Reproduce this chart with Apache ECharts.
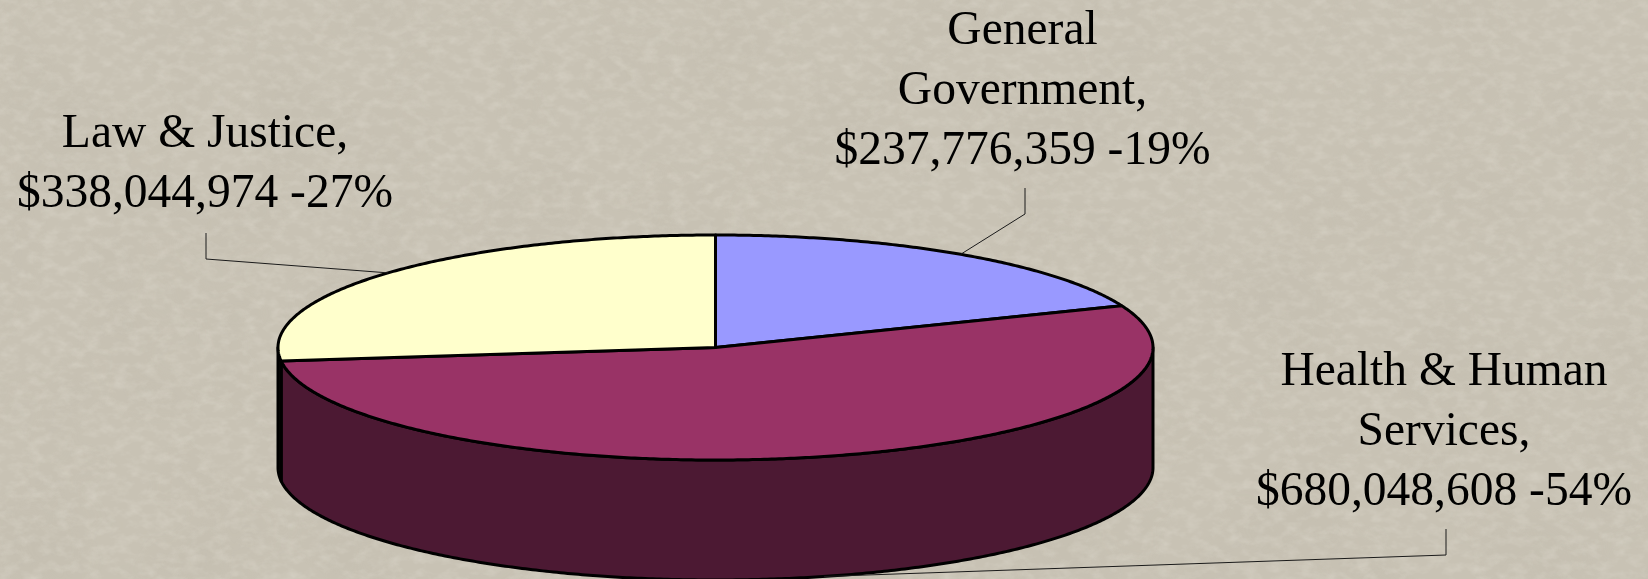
<!DOCTYPE html>
<html>
<head>
<meta charset="utf-8">
<style>
html,body{margin:0;padding:0;width:1648px;height:579px;overflow:hidden;background:#c8c2b4;}
#tex{position:absolute;left:0;top:0;}
#main{position:absolute;left:0;top:0;width:1648px;height:579px;}
</style>
<script src="https://cdn.jsdelivr.net/npm/echarts@6/dist/echarts.min.js"></script>
</head>
<body>
<svg id="tex" width="1648" height="579" xmlns="http://www.w3.org/2000/svg">
  <filter id="paper" x="0" y="0" width="100%" height="100%">
    <feTurbulence type="fractalNoise" baseFrequency="0.07 0.11" numOctaves="3" seed="7"/>
    <feColorMatrix type="matrix" values="0 0 0 0 1  0 0 0 0 0.98  0 0 0 0 0.92  1.5 0 0 0 -0.62"/>
    <feGaussianBlur stdDeviation="0.7"/>
  </filter>
  <filter id="paper2" x="0" y="0" width="100%" height="100%">
    <feTurbulence type="fractalNoise" baseFrequency="0.012" numOctaves="2" seed="3"/>
    <feColorMatrix type="matrix" values="0 0 0 0 0.45  0 0 0 0 0.42  0 0 0 0 0.35  0.9 0 0 0 -0.38"/>
  </filter>
  <rect width="1648" height="579" filter="url(#paper2)" opacity="0.3"/>
  <rect width="1648" height="579" filter="url(#paper)" opacity="0.24"/>
</svg>
<div id="main"></div>
<script>
// ---- data ----
const categories = ['General Government', 'Health & Human Services', 'Law & Justice'];
const amounts = [237776359, 680048608, 338044974];
const percents = [19, 54, 27];
const labelLines = [
  ['General', 'Government,'],
  ['Health & Human', 'Services,'],
  ['Law & Justice,']
];

// ---- colours ----
const topColors = ['#9999FF', '#993366', '#FFFFCC'];
const wallColors = ['#4C4C80', '#4C1933', '#1a1a14'];

// ---- layout of the tilted disc and the callouts (pixels) ----
const disc = { cx: 715.5, cy: 347.5, rx: 437.5, ry: 112.5, depth: 120 };
const labelAt = [[1022.5, 92], [1444, 433], [205, 165]];
const elbowAt = [[1025, 188, 214], [1446, 529, 555], [206, 233, 259]];

const total = amounts.reduce((a, b) => a + b, 0);
const startTurn = idx => amounts.slice(0, idx).reduce((a, b) => a + b, 0) / total;

// clockwise angle from 12 o'clock -> point on the top rim
function rim(turn, drop) {
  const a = turn * 2 * Math.PI;
  return [disc.cx + disc.rx * Math.sin(a), disc.cy - disc.ry * Math.cos(a) + (drop || 0)];
}
function arc(t0, t1, drop) {
  const pts = [];
  const n = Math.max(2, Math.ceil(Math.abs(t1 - t0) * 720));
  for (let i = 0; i <= n; i++) pts.push(rim(t0 + (t1 - t0) * i / n, drop));
  return pts;
}
const black = { stroke: '#000', lineWidth: 3, lineJoin: 'round' };

function renderItem(params, api) {
  const i = params.dataIndex;
  const value = api.value(0);
  const t0 = startTurn(i);
  const t1 = t0 + value / total;
  const children = [];

  // visible side wall: only the front half of the disc (turn 0.25 .. 0.75)
  const w0 = Math.max(t0, 0.25), w1 = Math.min(t1, 0.75);
  if (w1 > w0) {
    children.push({
      type: 'polygon',
      shape: { points: arc(w0, w1, 0).concat(arc(w1, w0, disc.depth)) },
      style: Object.assign({ fill: wallColors[i] }, black)
    });
  }
  // top face
  children.push({
    type: 'polygon',
    shape: { points: [[disc.cx, disc.cy]].concat(arc(t0, t1, 0)) },
    style: Object.assign({ fill: topColors[i] }, black)
  });

  // callout leader, anchored on the slice's middle angle
  const mid = (t0 + t1) / 2;
  const front = mid > 0.25 && mid < 0.75;
  const anchor = rim(mid, front ? disc.depth : 0);
  const e = elbowAt[i];
  children.push({
    type: 'polyline',
    shape: { points: [[e[0], e[1]], [e[0], e[2]], anchor] },
    style: { fill: 'none', stroke: '#1a1a1a', lineWidth: 1 }
  });

  // label
  const money = '$' + value.toLocaleString('en-US');
  children.push({
    type: 'text',
    style: {
      x: labelAt[i][0],
      y: labelAt[i][1],
      text: labelLines[i].concat(money + ' -' + percents[i] + '%').join('\n'),
      fill: '#000',
      font: '47.5px "Liberation Serif", serif',
      lineHeight: 60,
      align: 'center',
      verticalAlign: 'middle'
    }
  });
  return { type: 'group', children };
}

const chart = echarts.init(document.getElementById('main'), null, { renderer: 'canvas' });
chart.setOption({
  backgroundColor: 'transparent',
  animation: false,
  series: [{
    type: 'custom',
    coordinateSystem: 'none',
    renderItem,
    clip: false,
    data: amounts.map((v, i) => ({ name: categories[i], value: [v] }))
  }]
});
</script>
</body>
</html>
